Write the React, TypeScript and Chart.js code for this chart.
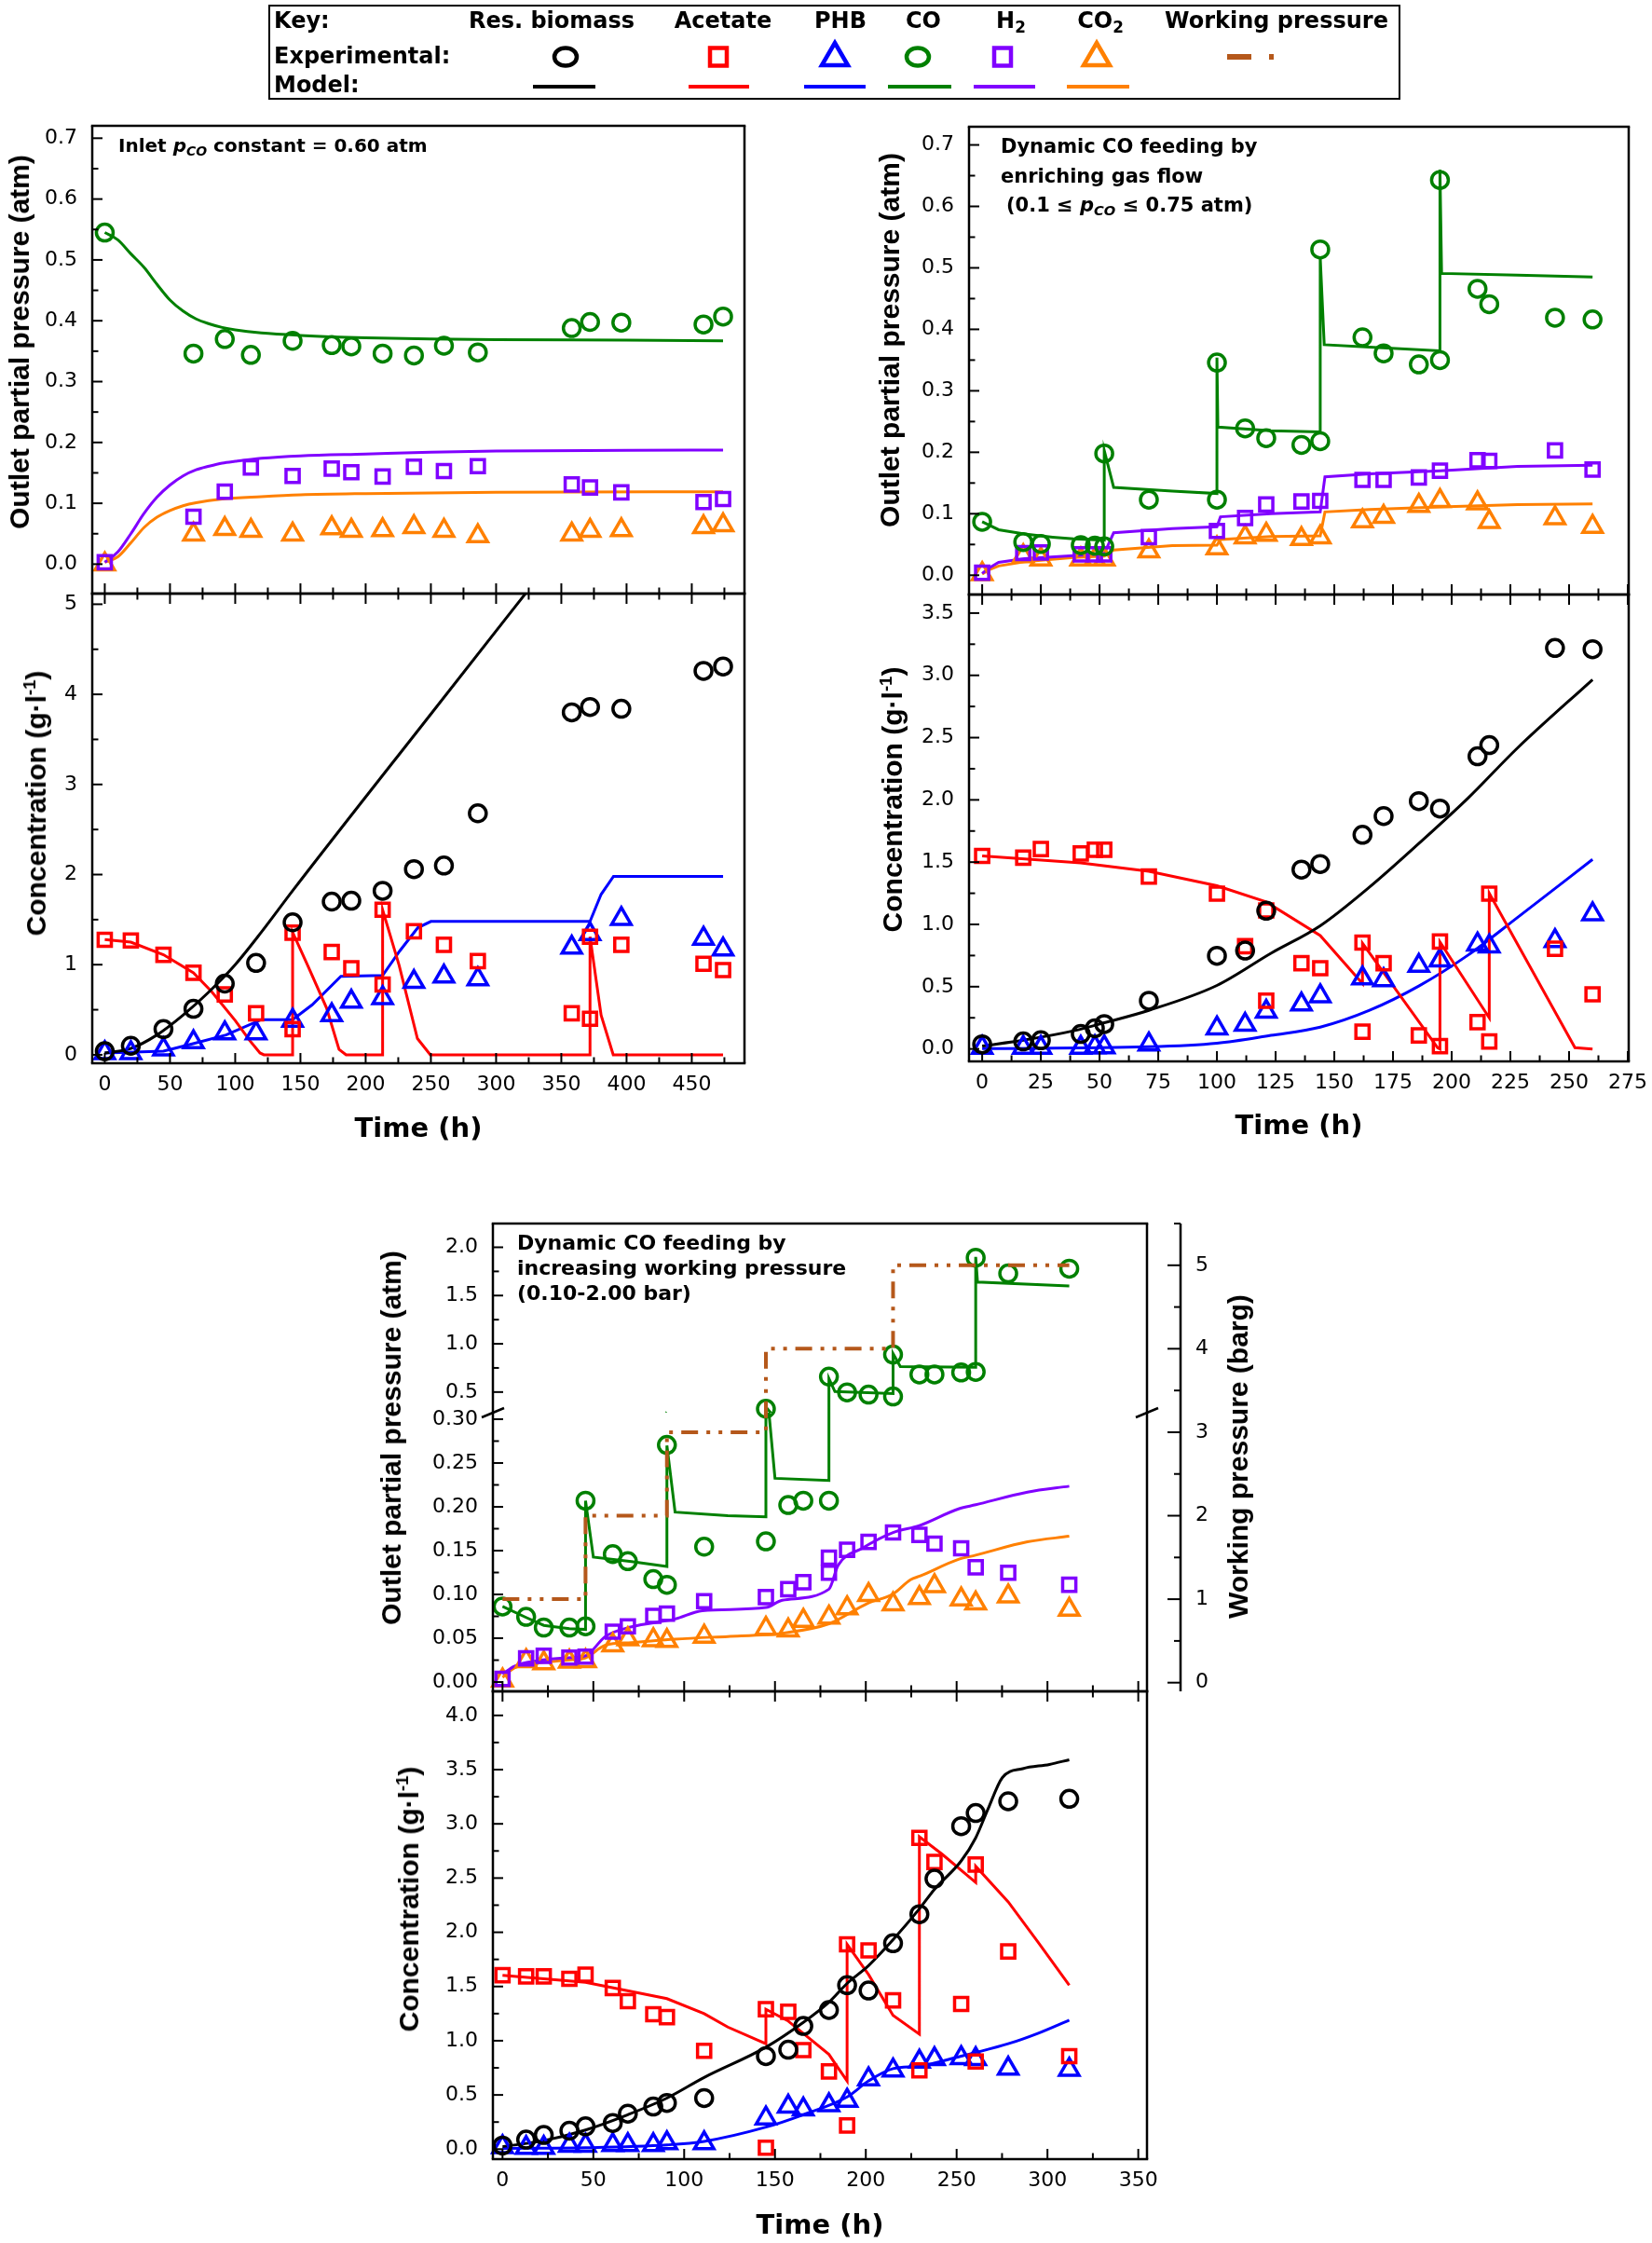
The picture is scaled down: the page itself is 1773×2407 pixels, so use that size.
import React, { useEffect, useRef } from 'react';
import { Chart, registerables } from 'chart.js';

Chart.register(...registerables);
Chart.defaults.font.family = 'DejaVu Sans';

type Pair = [number, number];

// ================= Panel A: constant inlet pCO (top left) =================
const aGasTime = [0, 68, 92, 112, 144, 174, 189, 213, 237, 260, 286, 358, 372, 396, 459, 474];
const aCO = [0.545, 0.346, 0.37, 0.344, 0.367, 0.36, 0.358, 0.346, 0.343, 0.359, 0.348, 0.388, 0.398, 0.397, 0.394, 0.407];
const aH2 = [0.003, 0.078, 0.119, 0.159, 0.145, 0.157, 0.151, 0.144, 0.16, 0.153, 0.161, 0.131, 0.126, 0.118, 0.102, 0.107];
const aCO2 = [0.0, 0.049, 0.058, 0.055, 0.049, 0.059, 0.055, 0.056, 0.061, 0.055, 0.046, 0.049, 0.055, 0.056, 0.061, 0.064];
const aCOModel: Pair[] = [[0, 0.545], [10, 0.533], [20, 0.51], [30, 0.488], [40, 0.46], [50, 0.434], [60, 0.416], [70, 0.403], [80, 0.395], [90, 0.389], [100, 0.385], [120, 0.38], [150, 0.376], [200, 0.372], [250, 0.37], [300, 0.369], [400, 0.368], [474, 0.367]];
const aH2Model: Pair[] = [[0, 0.003], [10, 0.02], [20, 0.05], [30, 0.083], [40, 0.11], [50, 0.13], [60, 0.145], [70, 0.155], [80, 0.161], [90, 0.166], [100, 0.169], [120, 0.174], [150, 0.178], [200, 0.181], [250, 0.184], [300, 0.186], [400, 0.187], [474, 0.1875]];
const aCO2Model: Pair[] = [[0, 0.003], [10, 0.012], [20, 0.035], [30, 0.06], [40, 0.077], [50, 0.088], [60, 0.096], [70, 0.101], [90, 0.107], [120, 0.111], [150, 0.114], [200, 0.116], [300, 0.118], [474, 0.119]];
const aConcTime = [0, 20, 45, 68, 92, 116, 144, 174, 189, 213, 237, 260, 286, 358, 372, 396, 459, 474];
const aBiomass = [0.04, 0.1, 0.285, 0.51, 0.79, 1.02, 1.47, 1.7, 1.71, 1.82, 2.06, 2.1, 2.68, 3.8, 3.86, 3.84, 4.26, 4.31];
const aPHB = [0.02, 0.02, 0.06, 0.14, 0.24, 0.24, 0.38, 0.44, 0.59, 0.63, 0.81, 0.87, 0.84, 1.19, 1.34, 1.51, 1.29, 1.17];
const aAcetate: Pair[] = [[0, 1.276], [20, 1.268], [45, 1.11], [68, 0.91], [92, 0.67], [116, 0.46], [144, 0.285], [144, 1.355], [174, 1.14], [189, 0.96], [213, 0.78], [213, 1.61], [237, 1.37], [260, 1.22], [286, 1.04], [358, 0.46], [372, 0.4], [372, 1.31], [396, 1.22], [459, 1.01], [474, 0.94]];
const aBiomassModel: Pair[] = [[0, 0.02], [20, 0.07], [40, 0.22], [60, 0.44], [80, 0.7], [100, 1.0], [120, 1.36], [144, 1.82], [251, 3.8], [340, 5.44]];
const aAcetateModel: Pair[] = [[0, 1.28], [20, 1.25], [45, 1.11], [68, 0.91], [82, 0.7], [100, 0.38], [111, 0.16], [119, 0.02], [122, 0], [144, 0], [144, 1.36], [155.6, 0.99], [170, 0.52], [179.6, 0.06], [185, 0], [213, 0], [213, 1.61], [225.7, 0.99], [239.7, 0.18], [249.6, 0], [372, 0], [372, 1.31], [380.5, 0.44], [389.8, 0], [474, 0]];
const aPHBModel: Pair[] = [[0, 0.02], [45, 0.04], [67, 0.12], [93, 0.22], [120, 0.39], [144, 0.39], [159, 0.555], [181, 0.87], [213, 0.88], [226, 1.15], [240, 1.41], [250, 1.48], [372, 1.48], [380.5, 1.78], [390, 1.98], [474, 1.98]];

// ================= Panel B: enriching gas flow (top right) =================
const bGasTime = [0, 17.5, 25, 42, 48, 52, 71, 100, 112, 121, 136, 144, 162, 171, 186, 195, 211, 216, 244, 260];
const bCO: Pair[] = [[0, 0.087], [17.5, 0.054], [25, 0.051], [42, 0.049], [48, 0.048], [52, 0.047], [52, 0.198], [71, 0.123], [100, 0.123], [100, 0.346], [112, 0.239], [121, 0.223], [136, 0.212], [144, 0.218], [144, 0.53], [162, 0.387], [171, 0.361], [186, 0.343], [195, 0.35], [195, 0.643], [211, 0.466], [216, 0.441], [244, 0.419], [260, 0.416]];
const bH2 = [0.004, 0.036, 0.037, 0.034, 0.034, 0.034, 0.062, 0.072, 0.093, 0.115, 0.12, 0.121, 0.155, 0.155, 0.159, 0.17, 0.187, 0.186, 0.203, 0.172];
const bCO2 = [0.002, 0.031, 0.026, 0.026, 0.026, 0.026, 0.039, 0.044, 0.062, 0.066, 0.059, 0.062, 0.088, 0.095, 0.113, 0.121, 0.117, 0.087, 0.093, 0.079];
const bCOModel: Pair[] = [[0, 0.087], [7, 0.074], [18, 0.067], [30, 0.062], [39, 0.059], [52, 0.057], [52, 0.203], [56, 0.143], [81, 0.137], [100, 0.133], [100, 0.354], [100.4, 0.241], [123, 0.235], [144, 0.233], [144, 0.517], [145.7, 0.375], [165, 0.371], [195, 0.365], [195, 0.66], [195.7, 0.491], [228, 0.488], [260, 0.485]];
const bH2Model: Pair[] = [[0, 0.003], [3, 0.012], [7, 0.021], [18, 0.027], [39, 0.032], [52, 0.035], [56, 0.069], [81, 0.076], [100, 0.079], [101.5, 0.095], [123, 0.1], [144, 0.103], [146, 0.16], [165, 0.165], [195, 0.17], [228, 0.177], [260, 0.179]];
const bCO2Model: Pair[] = [[0, 0.002], [3, 0.009], [7, 0.015], [18, 0.022], [39, 0.029], [52, 0.031], [56, 0.041], [81, 0.048], [100, 0.049], [101.5, 0.058], [123, 0.063], [144, 0.064], [146, 0.103], [165, 0.107], [195, 0.111], [228, 0.115], [260, 0.116]];
const bBiomass = [0.037, 0.06, 0.07, 0.12, 0.166, 0.2, 0.387, 0.748, 0.79, 1.11, 1.44, 1.485, 1.72, 1.87, 1.99, 1.93, 2.35, 2.44, 3.22, 3.21];
const bPHB = [0.01, 0.01, 0.01, 0.01, 0.015, 0.015, 0.037, 0.166, 0.195, 0.3, 0.358, 0.424, 0.567, 0.553, 0.668, 0.711, 0.84, 0.825, 0.868, 1.083];
const bAcetate: Pair[] = [[0, 1.55], [17.5, 1.536], [25, 1.605], [42, 1.57], [48, 1.6], [52, 1.6], [71, 1.384], [100, 1.247], [112, 0.825], [121, 1.112], [121, 0.387], [136, 0.688], [144, 0.648], [162, 0.854], [162, 0.138], [171, 0.688], [186, 0.109], [195, 0.863], [195, 0.023], [211, 0.215], [216, 1.247], [216, 0.06], [244, 0.805], [260, 0.439]];
const bBiomassModel: Pair[] = [[0, 0.023], [18, 0.072], [39, 0.146], [52, 0.21], [71, 0.31], [100, 0.51], [123, 0.768], [144, 0.989], [165, 1.3], [186, 1.65], [207, 2.015], [228, 2.416], [260, 2.966]];
const bAcetateModel: Pair[] = [[0, 1.55], [42, 1.493], [71, 1.427], [100, 1.31], [121, 1.18], [144, 0.91], [162, 0.525], [162, 0.85], [194, 0.01], [195, 0.0], [195, 0.86], [216, 0.25], [216, 1.25], [252.5, 0.01], [260, 0.0]];
const bPHBModel: Pair[] = [[0, 0.003], [71, 0.017], [100, 0.046], [123, 0.109], [144, 0.175], [165, 0.31], [186, 0.505], [207, 0.754], [228, 1.055], [260, 1.522]];

// ================= Panel C: increasing working pressure (bottom) =================
const cTime = [0, 13, 22.7, 36.8, 45.7, 60.7, 69, 83, 90.5, 111, 145, 157.3, 165.6, 179.7, 189.7, 201.5, 215, 229.5, 237.8, 252.5, 260.5, 278.4, 312];
const cCO: Pair[] = [[0, 0.0862], [13, 0.0744], [22.7, 0.0622], [36.8, 0.0622], [45.7, 0.0636], [45.7, 0.207], [60.7, 0.146], [69, 0.138], [83, 0.1175], [90.5, 0.111], [90.5, 0.2706], [111, 0.1545], [145, 0.1606], [145, 0.327], [157.3, 0.202], [165.6, 0.207], [179.7, 0.207], [179.7, 0.66], [189.7, 0.497], [201.5, 0.474], [215, 0.454], [215, 0.889], [229.5, 0.683], [237.8, 0.683], [252.5, 0.703], [260.5, 0.709], [260.5, 1.892], [278.4, 1.729], [312, 1.778]];
const cH2: Pair[] = [[0, 0.0036], [13, 0.027], [22.7, 0.03], [36.8, 0.028], [45.7, 0.029], [60.7, 0.0575], [69, 0.0636], [83, 0.0755], [90.5, 0.078], [111, 0.0923], [145, 0.097], [157.3, 0.106], [165.6, 0.114], [179.7, 0.1247], [179.7, 0.142], [189.7, 0.151], [201.5, 0.16], [215, 0.1707], [229.5, 0.168], [237.8, 0.158], [252.5, 0.1527], [260.5, 0.131], [278.4, 0.1247], [312, 0.111]];
const cCO2 = [0.002, 0.024, 0.0216, 0.0234, 0.024, 0.042, 0.049, 0.048, 0.047, 0.052, 0.061, 0.059, 0.07, 0.0737, 0.0844, 0.0995, 0.0888, 0.096, 0.1096, 0.0945, 0.0898, 0.098, 0.0826];
const cCOModel: Pair[] = [[0, 0.0862], [13, 0.0737], [22.7, 0.0647], [36.8, 0.061], [45.7, 0.06], [45.7, 0.207], [50, 0.1426], [71, 0.1376], [90.5, 0.132], [90.5, 0.27], [95, 0.194], [124, 0.19], [145, 0.1886], [145, 0.345], [150, 0.2325], [179.7, 0.23], [179.7, 0.64], [183, 0.505], [215, 0.485], [215, 0.9], [219, 0.765], [260.5, 0.757], [260.5, 1.9], [261.5, 1.64], [312, 1.6]];
const cH2Model: Pair[] = [[0, 0.009], [6.5, 0.018], [18.3, 0.024], [36, 0.0277], [45.7, 0.03], [56.6, 0.052], [71, 0.063], [95, 0.072], [110, 0.0815], [145, 0.085], [154, 0.0934], [179.7, 0.106], [184.7, 0.133], [198, 0.1527], [215, 0.1707], [229.5, 0.1786], [251, 0.1976], [260.5, 0.2023], [289, 0.2167], [312, 0.2235]];
const cCO2Model: Pair[] = [[0, 0.0054], [6.5, 0.016], [18.3, 0.0216], [36, 0.025], [45.7, 0.0277], [56.6, 0.042], [71, 0.045], [95, 0.049], [124, 0.052], [145, 0.054], [154, 0.0557], [179.7, 0.0665], [201, 0.0898], [215, 0.1006], [224.6, 0.1168], [230, 0.1211], [251, 0.14], [260.5, 0.1448], [289, 0.16], [312, 0.1664]];
const cWPTimes = [0, 45.7, 90.5, 145, 215, 312];
const cWPLevels = [1, 2, 3, 4, 5];
const cBiomass = [0.033, 0.088, 0.131, 0.17, 0.21, 0.242, 0.327, 0.393, 0.426, 0.471, 0.858, 0.917, 1.136, 1.283, 1.512, 1.463, 1.899, 2.167, 2.494, 2.979, 3.1, 3.208, 3.231];
const cPHB = [0.02, 0.013, 0.013, 0.033, 0.033, 0.039, 0.039, 0.039, 0.056, 0.056, 0.285, 0.393, 0.367, 0.406, 0.448, 0.645, 0.727, 0.808, 0.831, 0.841, 0.831, 0.743, 0.733];
const cAcetate: Pair[] = [[0, 1.604], [13, 1.594], [22.7, 1.594], [36.8, 1.571], [45.7, 1.61], [60.7, 1.486], [69, 1.365], [83, 1.244], [90.5, 1.218], [111, 0.907], [145, 1.29], [145, 0.013], [157.3, 1.267], [165.6, 0.913], [179.7, 0.717], [189.7, 1.889], [189.7, 0.219], [201.5, 1.833], [215, 1.372], [229.5, 2.871], [229.5, 0.727], [237.8, 2.648], [252.5, 1.339], [260.5, 2.625], [260.5, 0.808], [278.4, 1.823], [312, 0.858]];
const cBiomassModel: Pair[] = [[0, 0.023], [22.7, 0.079], [45.7, 0.177], [69, 0.318], [90.5, 0.471], [111, 0.661], [145, 0.94], [165.6, 1.169], [179.7, 1.355], [189.7, 1.528], [201.5, 1.692], [215, 1.931], [229.5, 2.216], [237.8, 2.396], [252.5, 2.658], [260.5, 2.871], [267.2, 3.133], [275.2, 3.427], [286.4, 3.509], [301.1, 3.548], [312, 3.591]];
const cAcetateModel: Pair[] = [[0, 1.604], [45.7, 1.539], [90.5, 1.388], [111, 1.25], [124, 1.126], [145, 0.972], [145, 1.29], [157, 1.185], [179.7, 0.874], [183, 0.792], [189.7, 0.628], [189.7, 1.889], [201.5, 1.61], [215, 1.234], [229.5, 1.06], [229.5, 2.881], [242, 2.72], [260.5, 2.46], [260.5, 2.609], [278.4, 2.28], [295, 1.905], [312, 1.512]];
const cPHBModel: Pair[] = [[0, 0.007], [45.7, 0.013], [90.5, 0.039], [111, 0.072], [145, 0.203], [165.6, 0.318], [189.7, 0.481], [201.5, 0.629], [215, 0.743], [229.5, 0.766], [252.5, 0.858], [260.5, 0.891], [278.4, 0.972], [295, 1.07], [312, 1.19]];

// ================= Tick labels =================
const aTimeTicks = [0, 50, 100, 150, 200, 250, 300, 350, 400, 450];
const bTimeTicks = [0, 25, 50, 75, 100, 125, 150, 175, 200, 225, 250, 275];
const cTimeTicks = [0, 50, 100, 150, 200, 250, 300, 350];
const gasTicks = [0, 0.1, 0.2, 0.3, 0.4, 0.5, 0.6, 0.7];
const aConcTicks = [0, 1, 2, 3, 4, 5];
const bConcTicks = [0, 0.5, 1, 1.5, 2, 2.5, 3, 3.5];
const cGasHighTicks = [0.5, 1.0, 1.5, 2.0];
const cGasLowTicks = [0, 0.05, 0.1, 0.15, 0.2, 0.25, 0.3];
const cWPTicks = [0, 1, 2, 3, 4, 5];
const cConcTicks = [0, 0.5, 1, 1.5, 2, 2.5, 3, 3.5, 4];

// ================= styles =================
const COL = { bio: '#000000', ace: '#ff0000', phb: '#0000ff', co: '#008000', h2: '#8000ff', co2: '#ff8000', wp: '#b5581b' };
const RAD: Record<string, number> = { circle: 9, rect: 10, triangle: 12 };

const xy = (xs: number[], ys: number[]) => xs.map((x, i) => ({ x, y: ys[i] }));
const pp = (ps: Pair[]) => ps.map(([x, y]) => ({ x, y }));

function marks(data: any[], color: string, style: string) {
  return {
    data, showLine: false, pointStyle: style, pointRadius: RAD[style], pointHoverRadius: RAD[style],
    pointBorderWidth: 3.5, pointBorderColor: color, pointBackgroundColor: 'rgba(0,0,0,0)',
    borderColor: color, backgroundColor: 'rgba(0,0,0,0)', clip: false, order: 0,
  };
}
function line(data: any[], color: string, smooth = false, extra: any = {}) {
  return {
    data, showLine: true, pointRadius: 0, pointHoverRadius: 0, borderColor: color, backgroundColor: color,
    borderWidth: 3, fill: false, tension: 0, cubicInterpolationMode: smooth ? 'monotone' : 'default', order: 1, ...extra,
  };
}
function minorOf(t: number[], min: number, max: number) {
  const step = t[1] - t[0];
  const out: number[] = [];
  for (let v = t[0] - step / 2; v <= max + 1e-6; v += step) if (v >= min - 1e-6) out.push(+v.toFixed(6));
  return out;
}
function stepLine(times: number[], levels: number[]) {
  const out: Pair[] = [];
  levels.forEach((l, i) => { out.push([times[i], l]); out.push([times[i + 1], l]); });
  return out;
}

interface Spec {
  key: string; L: number; T: number; R: number; B: number;
  x: [number, number]; y: [number, number];
  xTicks: number[]; yTicks: number[]; yDec: number;
  showX: boolean; yRight?: boolean; rightLabelPad?: number;
  xSides: string[]; borders: string; breaks?: boolean; axisOffset?: number;
  datasets: any[];
}

const YW = 110, PADR = 40, PADT = 30, XH = 70, PADB = 30, RW = 90;

function boxOf(s: Spec) {
  const w = s.R - s.L, h = s.B - s.T;
  return {
    left: s.L - YW, top: s.T - PADT,
    width: YW + w + (s.yRight ? RW + 10 : PADR),
    height: PADT + h + (s.showX ? XH : PADB),
  };
}

function buildSpecs(): Spec[] {
  const aX: [number, number] = [-9.6, 490.4];
  const bX: [number, number] = [-5.6, 275.4];
  const cX: [number, number] = [-5.3, 354.8];
  return [
    {
      key: 'aGas', L: 99, T: 135, R: 799, B: 637, x: aX, y: [-0.0484, 0.7204], xTicks: aTimeTicks, yTicks: gasTicks, yDec: 1,
      showX: false, xSides: ['bottom'], borders: 'tblr',
      datasets: [
        line(pp(aCOModel), COL.co, true), line(pp(aH2Model), COL.h2, true), line(pp(aCO2Model), COL.co2, true),
        marks(xy(aGasTime, aCO), COL.co, 'circle'), marks(xy(aGasTime, aH2), COL.h2, 'rect'), marks(xy(aGasTime, aCO2), COL.co2, 'triangle'),
      ],
    },
    {
      key: 'aConc', L: 99, T: 637, R: 799, B: 1141, x: aX, y: [-0.094, 5.118], xTicks: aTimeTicks, yTicks: aConcTicks, yDec: 0,
      showX: true, xSides: ['top', 'bottom'], borders: 'tblr',
      datasets: [
        line(pp(aBiomassModel), COL.bio, true), line(pp(aAcetateModel), COL.ace), line(pp(aPHBModel), COL.phb),
        marks(xy(aConcTime, aBiomass), COL.bio, 'circle'), marks(pp(aAcetate), COL.ace, 'rect'), marks(xy(aConcTime, aPHB), COL.phb, 'triangle'),
      ],
    },
    {
      key: 'bGas', L: 1040, T: 136, R: 1748, B: 638, x: bX, y: [-0.0314, 0.7296], xTicks: bTimeTicks, yTicks: gasTicks, yDec: 1,
      showX: false, xSides: ['bottom'], borders: 'tblr',
      datasets: [
        line(pp(bCOModel), COL.co), line(pp(bH2Model), COL.h2), line(pp(bCO2Model), COL.co2),
        marks(pp(bCO), COL.co, 'circle'), marks(xy(bGasTime, bH2), COL.h2, 'rect'), marks(xy(bGasTime, bCO2), COL.co2, 'triangle'),
      ],
    },
    {
      key: 'bConc', L: 1040, T: 638, R: 1748, B: 1139, x: bX, y: [-0.1, 3.649], xTicks: bTimeTicks, yTicks: bConcTicks, yDec: 1,
      showX: true, xSides: ['top', 'bottom'], borders: 'tblr',
      datasets: [
        line(pp(bBiomassModel), COL.bio, true), line(pp(bAcetateModel), COL.ace), line(pp(bPHBModel), COL.phb, true),
        marks(xy(bGasTime, bBiomass), COL.bio, 'circle'), marks(pp(bAcetate), COL.ace, 'rect'), marks(xy(bGasTime, bPHB), COL.phb, 'triangle'),
      ],
    },
    {
      key: 'cGasHigh', L: 529, T: 1313, R: 1231, B: 1516, x: cX, y: [0.286, 2.246], xTicks: cTimeTicks, yTicks: cGasHighTicks, yDec: 1,
      showX: false, xSides: [], borders: 'tlr',
      datasets: [
        line(pp(cCOModel), COL.co),
        marks(pp(cCO.filter(([, v]) => v > 0.3)), COL.co, 'circle'),
      ],
    },
    {
      key: 'cGasLow', L: 529, T: 1516, R: 1231, B: 1815, x: cX, y: [-0.0106, 0.3074], xTicks: cTimeTicks, yTicks: cGasLowTicks, yDec: 2,
      showX: false, xSides: ['bottom'], borders: 'blr', breaks: true,
      datasets: [
        line(pp(cCOModel), COL.co), line(pp(cH2Model), COL.h2, true), line(pp(cCO2Model), COL.co2, true),
        marks(pp(cCO.filter(([, v]) => v <= 0.3)), COL.co, 'circle'), marks(pp(cH2), COL.h2, 'rect'), marks(xy(cTime, cCO2), COL.co2, 'triangle'),
      ],
    },
    {
      key: 'cWP', L: 529, T: 1313, R: 1231, B: 1815, x: cX, y: [-0.104, 5.5], xTicks: cTimeTicks, yTicks: cWPTicks, yDec: 0,
      showX: false, yRight: true, rightLabelPad: 52, xSides: [], borders: '', axisOffset: 36,
      datasets: [
        line(pp(stepLine(cWPTimes, cWPLevels)), COL.wp, false, { borderWidth: 4, borderDash: [18, 9, 4, 9, 4, 9] }),
      ],
    },
    {
      key: 'cConc', L: 529, T: 1815, R: 1231, B: 2317, x: cX, y: [-0.092, 4.222], xTicks: cTimeTicks, yTicks: cConcTicks, yDec: 1,
      showX: true, xSides: ['top', 'bottom'], borders: 'tblr',
      datasets: [
        line(pp(cBiomassModel), COL.bio, true), line(pp(cAcetateModel), COL.ace), line(pp(cPHBModel), COL.phb, true),
        marks(xy(cTime, cBiomass), COL.bio, 'circle'), marks(pp(cAcetate), COL.ace, 'rect'), marks(xy(cTime, cPHB), COL.phb, 'triangle'),
      ],
    },
  ];
}

function framePlugin(s: Spec) {
  return {
    id: 'frame_' + s.key,
    afterDraw(chart: any) {
      const { ctx, chartArea: a } = chart;
      const xs = chart.scales.x, ys = chart.scales.y;
      ctx.save();
      ctx.strokeStyle = '#000';
      ctx.lineCap = 'butt';
      ctx.lineWidth = 2;
      const seg = (x1: number, y1: number, x2: number, y2: number) => { ctx.beginPath(); ctx.moveTo(x1, y1); ctx.lineTo(x2, y2); ctx.stroke(); };
      const xMinor = minorOf(s.xTicks, s.x[0], s.x[1]);
      for (const side of s.xSides) {
        const draw = (v: number, len: number) => {
          const p = xs.getPixelForValue(v);
          if (side === 'bottom') seg(p, a.bottom, p, a.bottom - len); else seg(p, a.top, p, a.top + len);
        };
        s.xTicks.forEach(v => draw(v, 11));
        xMinor.forEach(v => draw(v, 6.5));
      }
      const yMinor = minorOf(s.yTicks, s.y[0], s.y[1]);
      if (s.yRight) {
        const x0 = a.right + (s.axisOffset || 0);
        s.yTicks.forEach(v => { const p = ys.getPixelForValue(v); seg(x0, p, x0 - 14, p); });
        yMinor.forEach(v => { const p = ys.getPixelForValue(v); seg(x0, p, x0 - 7, p); });
        ctx.lineWidth = 2.5;
        seg(x0, a.top, x0, a.bottom);
      } else {
        s.yTicks.forEach(v => { const p = ys.getPixelForValue(v); seg(a.left, p, a.left + 11, p); });
        yMinor.forEach(v => { const p = ys.getPixelForValue(v); seg(a.left, p, a.left + 6.5, p); });
      }
      ctx.lineWidth = 2.5;
      const b = s.borders;
      if (b.includes('t')) seg(a.left - 1.25, a.top, a.right + 1.25, a.top);
      if (b.includes('b')) seg(a.left - 1.25, a.bottom, a.right + 1.25, a.bottom);
      if (b.includes('l')) seg(a.left, a.top, a.left, a.bottom);
      if (b.includes('r')) seg(a.right, a.top, a.right, a.bottom);
      if (s.breaks) {
        seg(a.left - 12, a.top + 5, a.left + 12, a.top - 5);
        seg(a.right - 12, a.top + 5, a.right + 12, a.top - 5);
      }
      ctx.restore();
    },
  };
}

function makeConfig(s: Spec): any {
  const font = { family: 'DejaVu Sans', size: 22 };
  return {
    type: 'scatter',
    data: { datasets: s.datasets },
    options: {
      animation: false, responsive: false, maintainAspectRatio: false, devicePixelRatio: 1, events: [],
      layout: { padding: { left: s.yRight ? YW : 0, right: s.yRight ? 10 : PADR, top: PADT, bottom: s.showX ? 0 : PADB } },
      plugins: { legend: { display: false }, tooltip: { enabled: false }, title: { display: false } },
      scales: {
        x: {
          type: 'linear', min: s.x[0], max: s.x[1], display: s.showX, position: 'bottom',
          grid: { display: false, drawTicks: false }, border: { display: false },
          afterBuildTicks: (sc: any) => { sc.ticks = s.xTicks.map(v => ({ value: v })); },
          afterFit: (sc: any) => { if (s.showX) sc.height = XH; sc.paddingLeft = 0; sc.paddingRight = 0; },
          ticks: { font, color: '#000', padding: 10, maxRotation: 0, minRotation: 0, autoSkip: false, callback: (v: any) => String(v) },
        },
        y: {
          type: 'linear', min: s.y[0], max: s.y[1], display: true, position: s.yRight ? 'right' : 'left',
          grid: { display: false, drawTicks: false }, border: { display: false },
          afterBuildTicks: (sc: any) => { sc.ticks = s.yTicks.map(v => ({ value: v })); },
          afterFit: (sc: any) => { sc.width = s.yRight ? RW : YW; sc.paddingTop = 0; sc.paddingBottom = 0; },
          ticks: { font, color: '#000', padding: s.yRight ? (s.rightLabelPad || 50) : 16, autoSkip: false, callback: (v: any) => Number(v).toFixed(s.yDec) },
        },
      },
    },
    plugins: [framePlugin(s)],
  };
}

const SPECS_LAYOUT = buildSpecs();

const subS: React.CSSProperties = { fontSize: '0.7em', verticalAlign: '-0.3em', lineHeight: 0 };
const supS: React.CSSProperties = { fontSize: '0.62em', verticalAlign: '0.6em', lineHeight: 0 };

function Txt(props: { x: number; y: number; size?: number; family?: string; weight?: string; align?: 'left' | 'center'; rot?: boolean; children: any }) {
  const { x, y, size = 24, family = 'DejaVu Sans', weight = 'bold', align = 'center', rot = false, children } = props;
  return (
    <div style={{
      position: 'absolute', left: x, top: y, whiteSpace: 'nowrap', color: '#000', lineHeight: 1,
      fontFamily: `"${family}"`, fontWeight: weight as any, fontSize: size,
      transform: `translate(${align === 'left' ? '0' : '-50%'}, -50%)${rot ? ' rotate(-90deg)' : ''}`,
    }}>{children}</div>
  );
}

function Mk(props: { x: number; y: number; kind: string; color: string }) {
  const { x, y, kind, color } = props;
  return (
    <svg style={{ position: 'absolute', left: x - 20, top: y - 20 }} width={40} height={40}>
      {kind === 'circle' && <ellipse cx={20} cy={20} rx={12} ry={9.5} fill="none" stroke={color} strokeWidth={4.5} />}
      {kind === 'rect' && <rect x={11} y={10.5} width={18} height={19} fill="none" stroke={color} strokeWidth={4.5} />}
      {kind === 'tri' && <polygon points="20,7 34,31 6,31" fill="none" stroke={color} strokeWidth={4.5} />}
    </svg>
  );
}

function Bar(props: { x1: number; x2: number; y: number; color: string; h?: number }) {
  const { x1, x2, y, color, h = 4 } = props;
  return <div style={{ position: 'absolute', left: x1, top: y - h / 2, width: x2 - x1, height: h, background: color }} />;
}

export default function App() {
  const refs = useRef<(HTMLCanvasElement | null)[]>([]);
  useEffect(() => {
    const specs = buildSpecs();
    const charts = specs.map((s, i) => new Chart(refs.current[i] as HTMLCanvasElement, makeConfig(s)));
    return () => charts.forEach(c => c.destroy());
  }, []);

  return (
    <div style={{ position: 'absolute', left: 0, top: 0, width: 1773, height: 2407, background: '#fff', overflow: 'hidden' }}>
      {SPECS_LAYOUT.map((s, i) => {
        const b = boxOf(s);
        return (
          <canvas key={s.key} ref={el => { refs.current[i] = el; }} width={b.width} height={b.height}
            style={{ position: 'absolute', left: b.left, top: b.top, width: b.width, height: b.height }} />
        );
      })}

      {/* Legend / key */}
      <div style={{ position: 'absolute', left: 288, top: 5, width: 1215, height: 102, border: '2px solid #000', boxSizing: 'border-box' }} />
      <Txt x={294} y={22} align="left">Key:</Txt>
      <Txt x={592} y={22}>Res. biomass</Txt>
      <Txt x={776} y={22}>Acetate</Txt>
      <Txt x={902} y={22}>PHB</Txt>
      <Txt x={991} y={22}>CO</Txt>
      <Txt x={1085} y={22}>H<sub style={subS}>2</sub></Txt>
      <Txt x={1181} y={22}>CO<sub style={subS}>2</sub></Txt>
      <Txt x={1370} y={22}>Working pressure</Txt>
      <Txt x={294} y={60} align="left">Experimental:</Txt>
      <Txt x={294} y={91} align="left">Model:</Txt>
      <Mk x={607} y={61} kind="circle" color={COL.bio} />
      <Mk x={771} y={61} kind="rect" color={COL.ace} />
      <Mk x={896} y={59} kind="tri" color={COL.phb} />
      <Mk x={985} y={61} kind="circle" color={COL.co} />
      <Mk x={1076} y={61} kind="rect" color={COL.h2} />
      <Mk x={1177} y={59} kind="tri" color={COL.co2} />
      <Bar x1={1317} x2={1343} y={61} color={COL.wp} h={6} />
      <Bar x1={1362} x2={1367} y={61} color={COL.wp} h={6} />
      <Bar x1={572} x2={639} y={93} color={COL.bio} />
      <Bar x1={739} x2={804} y={93} color={COL.ace} />
      <Bar x1={863} x2={929} y={93} color={COL.phb} />
      <Bar x1={953} x2={1021} y={93} color={COL.co} />
      <Bar x1={1045} x2={1111} y={93} color={COL.h2} />
      <Bar x1={1145} x2={1212} y={93} color={COL.co2} />

      {/* Axis titles */}
      <Txt x={21} y={367} rot size={30} family="Liberation Sans">Outlet partial pressure (atm)</Txt>
      <Txt x={39} y={862} rot size={30} family="Liberation Sans">Concentration (g·l<sup style={supS}>-1</sup>)</Txt>
      <Txt x={449} y={1210} size={29}>Time (h)</Txt>
      <Txt x={955} y={365} rot size={30} family="Liberation Sans">Outlet partial pressure (atm)</Txt>
      <Txt x={958} y={858} rot size={30} family="Liberation Sans">Concentration (g·l<sup style={supS}>-1</sup>)</Txt>
      <Txt x={1394} y={1207} size={29}>Time (h)</Txt>
      <Txt x={420} y={1543} rot size={30} family="Liberation Sans">Outlet partial pressure (atm)</Txt>
      <Txt x={1329} y={1563} rot size={30} family="Liberation Sans">Working pressure (barg)</Txt>
      <Txt x={439} y={2038} rot size={30} family="Liberation Sans">Concentration (g·l<sup style={supS}>-1</sup>)</Txt>
      <Txt x={880} y={2387} size={29}>Time (h)</Txt>

      {/* Annotations */}
      <Txt x={127} y={156} size={20} align="left">Inlet <i>p<sub style={subS}>CO</sub></i> constant = 0.60 atm</Txt>
      <Txt x={1074} y={157} size={21} align="left">Dynamic CO feeding by</Txt>
      <Txt x={1074} y={189} size={21} align="left">enriching gas flow</Txt>
      <Txt x={1080} y={220} size={21} align="left">(0.1 ≤ <i>p<sub style={subS}>CO</sub></i> ≤ 0.75 atm)</Txt>
      <Txt x={555} y={1334} size={22} align="left">Dynamic CO feeding by</Txt>
      <Txt x={555} y={1361} size={22} align="left">increasing working pressure</Txt>
      <Txt x={555} y={1388} size={22} align="left">(0.10-2.00 bar)</Txt>
    </div>
  );
}
